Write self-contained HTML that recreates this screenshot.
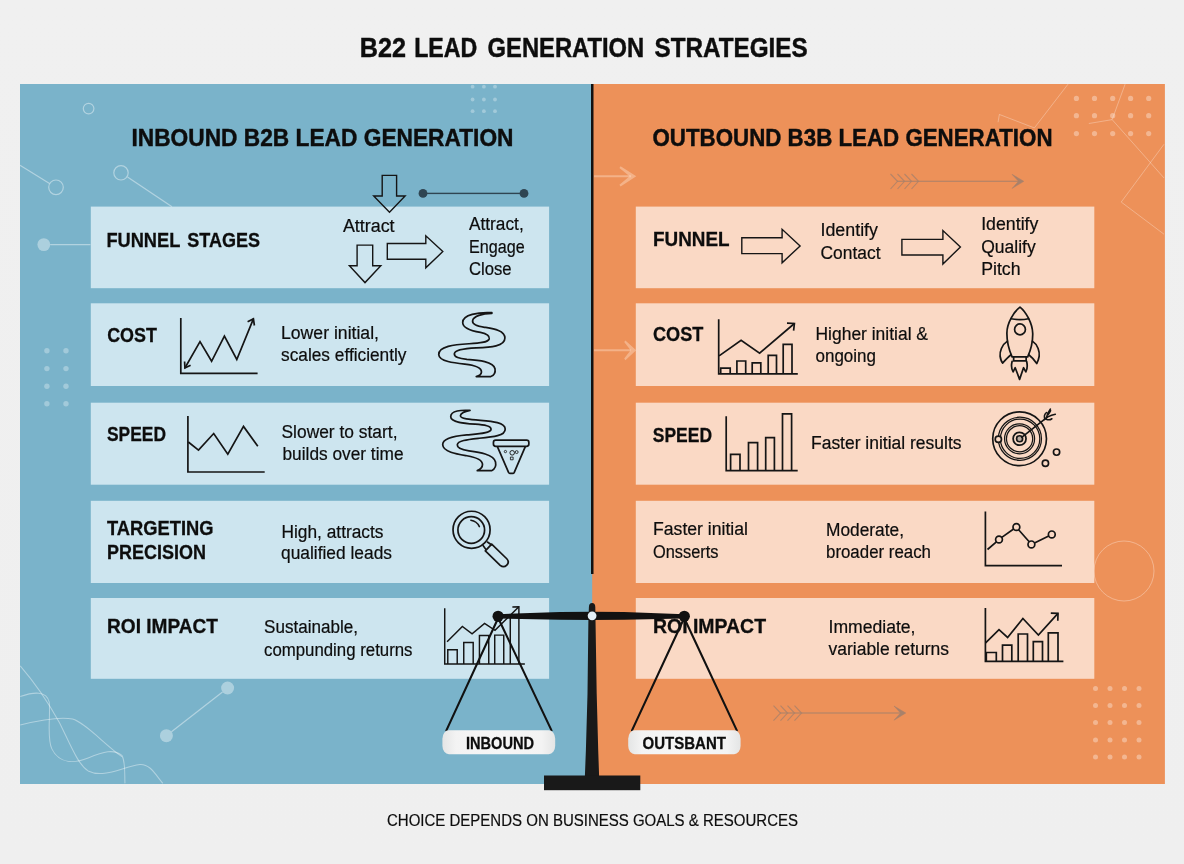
<!DOCTYPE html>
<html lang="en">
<head>
<meta charset="utf-8">
<title>B22 Lead Generation Strategies</title>
<style>
html,body{margin:0;padding:0;background:#f0f0f0;}
body{width:1184px;height:864px;overflow:hidden;font-family:"Liberation Sans",sans-serif;}
svg{display:block;will-change:transform;}
text{font-family:"Liberation Sans",sans-serif;fill:#0d0d0d;stroke:#0d0d0d;stroke-width:0.2;}
.b{font-weight:bold;stroke-width:0.3;}
.h{stroke-width:0.45;}
.ic{fill:none;stroke:#151515;stroke-width:1.7;stroke-linejoin:miter;stroke-linecap:butt;}
</style>
</head>
<body>
<svg width="1184" height="864" viewBox="0 0 1184 864">
<defs>
<linearGradient id="bgg" x1="0" y1="0" x2="0" y2="1"><stop offset="0" stop-color="#f0f0f0"/><stop offset="1" stop-color="#efefef"/></linearGradient>
</defs>
<rect x="0" y="0" width="1184" height="864" fill="url(#bgg)"/>
<!-- panels -->
<rect id="pblue" x="20" y="84" width="574" height="700" fill="#7ab3ca"/>
<rect id="porange" x="592.2" y="84" width="572.7" height="700" fill="#ed9159"/>

<!-- DECOR-BLUE -->
<g id="decblue" fill="none" stroke="#ffffff" stroke-opacity="0.42" stroke-width="1.2">
<circle cx="88.6" cy="108.6" r="5.3"/>
<circle cx="56" cy="187.3" r="7.3"/>
<path d="M20,165.2 L49.5,183.5"/>
<circle cx="121" cy="172.8" r="7.2"/>
<path d="M127.5,177 L172,206.7"/>
<path d="M50.2,244.6 H90.5"/>
<path d="M171.5,731.7 L222.5,692"/>
<g transform="translate(0,640) scale(0.25926)" stroke-width="4" stroke-opacity="0.4">
<path d="M78,100 C130,160 180,230 230,320 C270,400 300,480 340,505 C400,535 470,490 540,480 C580,478 600,520 628,553"/>
<path d="M78,218 C130,200 180,195 190,240 C195,300 180,380 200,420 C230,480 290,475 340,455 C400,430 440,420 470,445 C485,470 480,520 482,553"/>
<path d="M78,328 C150,310 230,295 280,305 C330,320 400,400 470,450"/>
</g>
</g>
<g id="decblue2" fill="#ffffff" fill-opacity="0.38">
<circle cx="43.8" cy="244.6" r="6.4"/>
<circle cx="227.6" cy="688" r="6.5"/>
<circle cx="166.4" cy="735.7" r="6.5"/>
<g fill-opacity="0.3">
<circle cx="46.9" cy="350.7" r="2.7"/><circle cx="66" cy="350.7" r="2.7"/>
<circle cx="46.9" cy="368.6" r="2.7"/><circle cx="66" cy="368.6" r="2.7"/>
<circle cx="46.9" cy="386.2" r="2.7"/><circle cx="66" cy="386.2" r="2.7"/>
<circle cx="46.9" cy="403.8" r="2.7"/><circle cx="66" cy="403.8" r="2.7"/>
<circle cx="472.6" cy="86.7" r="1.9"/><circle cx="483.9" cy="86.7" r="1.9"/><circle cx="495" cy="86.7" r="1.9"/>
<circle cx="472.6" cy="99.5" r="1.9"/><circle cx="483.9" cy="99.5" r="1.9"/><circle cx="495" cy="99.5" r="1.9"/>
<circle cx="472.6" cy="111.2" r="1.9"/><circle cx="483.9" cy="111.2" r="1.9"/><circle cx="495" cy="111.2" r="1.9"/>
</g>
</g>
<!-- DECOR-ORANGE -->
<g id="decor" fill="#ffffff" fill-opacity="0.34">
<circle cx="1076.4" cy="98.4" r="2.6"/>
<circle cx="1094.5" cy="98.4" r="2.6"/>
<circle cx="1112.7" cy="98.4" r="2.6"/>
<circle cx="1130.6" cy="98.4" r="2.6"/>
<circle cx="1148.7" cy="98.4" r="2.6"/>
<circle cx="1076.4" cy="115.7" r="2.6"/>
<circle cx="1094.5" cy="115.7" r="2.6"/>
<circle cx="1112.7" cy="115.7" r="2.6"/>
<circle cx="1130.6" cy="115.7" r="2.6"/>
<circle cx="1148.7" cy="115.7" r="2.6"/>
<circle cx="1076.4" cy="133.6" r="2.6"/>
<circle cx="1094.5" cy="133.6" r="2.6"/>
<circle cx="1112.7" cy="133.6" r="2.6"/>
<circle cx="1130.6" cy="133.6" r="2.6"/>
<circle cx="1148.7" cy="133.6" r="2.6"/>
<circle cx="1095.5" cy="688.5" r="2.5"/>
<circle cx="1110" cy="688.5" r="2.5"/>
<circle cx="1124.5" cy="688.5" r="2.5"/>
<circle cx="1139" cy="688.5" r="2.5"/>
<circle cx="1095.5" cy="705.5" r="2.5"/>
<circle cx="1110" cy="705.5" r="2.5"/>
<circle cx="1124.5" cy="705.5" r="2.5"/>
<circle cx="1139" cy="705.5" r="2.5"/>
<circle cx="1095.5" cy="722.5" r="2.5"/>
<circle cx="1110" cy="722.5" r="2.5"/>
<circle cx="1124.5" cy="722.5" r="2.5"/>
<circle cx="1139" cy="722.5" r="2.5"/>
<circle cx="1095.5" cy="740" r="2.5"/>
<circle cx="1110" cy="740" r="2.5"/>
<circle cx="1124.5" cy="740" r="2.5"/>
<circle cx="1139" cy="740" r="2.5"/>
<circle cx="1095.5" cy="757" r="2.5"/>
<circle cx="1110" cy="757" r="2.5"/>
<circle cx="1124.5" cy="757" r="2.5"/>
<circle cx="1139" cy="757" r="2.5"/>
</g>
<g fill="none" stroke="#ffffff" stroke-opacity="0.3" stroke-width="1">
<circle cx="1124" cy="571" r="30" stroke-opacity="0.32"/>
<g transform="translate(884,60) scale(0.25926)" stroke-width="3.8">
<path d="M710,93 L580,262 L445,210 L440,240"/>
<path d="M930,93 L880,230 L1080,455 M880,230 L790,245"/>
<path d="M1080,325 L915,548 L1080,672"/>
</g>
</g>
<g fill="#ffe3d0" fill-opacity="0.4" stroke="none">
<path d="M594,175.2 H631 V177.2 H594 Z"/>
<path d="M636.3,176.2 L620.6,166.2 L619.4,167.9 L629.6,176.2 L619.4,184.7 L620.6,186.4 Z"/>
<path d="M594,349.2 H631 V351.2 H594 Z"/>
<path d="M636.2,350.2 L625.4,340.4 L624.2,342 L630.6,350.2 L624.2,358.6 L625.4,360.2 Z"/>
</g>
<g fill="none" stroke="#a8816a" stroke-width="1.1">
<path d="M897,181.3 H1020"/><path d="M1023.8,181.3 L1012,174.3 L1018.5,181.3 L1012,188.5 Z" fill="#a8816a" stroke-width="0.5"/>
<path d="M890.5,174 L897.5,181.3 L890.5,189 M897.5,174 L904.5,181.3 L897.5,189 M904.5,174 L911.5,181.3 L904.5,189 M911.5,174 L918.5,181.3 L911.5,189" stroke-opacity="0.8"/>
<path d="M780,713 H902"/><path d="M905.8,713 L894,706 L900.5,713 L894,720.2 Z" fill="#a8816a" stroke-width="0.5"/>
<path d="M773.5,705.7 L780.5,713 L773.5,720.7 M780.5,705.7 L787.5,713 L780.5,720.7 M787.5,705.7 L794.5,713 L787.5,720.7 M794.5,705.7 L801.5,713 L794.5,720.7" stroke-opacity="0.8"/>
</g>

<!-- rows left -->
<g fill="#cde5ef">
<rect x="90.8" y="206.6" width="458.3" height="81.6"/>
<rect x="90.8" y="303.3" width="458.3" height="82.7"/>
<rect x="90.8" y="402.7" width="458.3" height="82"/>
<rect x="90.8" y="500.8" width="458.3" height="82.2"/>
<rect x="90.8" y="598" width="458.3" height="80.8"/>
</g>
<!-- rows right -->
<g fill="#fad9c5">
<rect x="635.8" y="206.6" width="458.5" height="81.6"/>
<rect x="635.8" y="303.3" width="458.5" height="82.7"/>
<rect x="635.8" y="402.7" width="458.5" height="82"/>
<rect x="635.8" y="500.8" width="458.5" height="82.2"/>
<rect x="635.8" y="598" width="458.5" height="80.8"/>
</g>

<!-- divider -->
<rect x="591" y="84" width="2.5" height="490" fill="#111"/>

<!-- TITLES -->
<text class="b h" y="57.4" font-size="27"><tspan x="359.8" textLength="46.2" lengthAdjust="spacingAndGlyphs">B22</tspan> <tspan x="414.2" textLength="63.2" lengthAdjust="spacingAndGlyphs">LEAD</tspan> <tspan x="487.6" textLength="156.6" lengthAdjust="spacingAndGlyphs">GENERATION</tspan> <tspan x="654.6" textLength="153" lengthAdjust="spacingAndGlyphs">STRATEGIES</tspan></text>
<text class="b h" x="131.5" y="146.1" font-size="24.3" textLength="382" lengthAdjust="spacingAndGlyphs">INBOUND B2B LEAD GENERATION</text>
<text class="b h" x="652.5" y="146.1" font-size="24.3" textLength="400" lengthAdjust="spacingAndGlyphs">OUTBOUND B3B LEAD GENERATION</text>
<text x="387" y="826.2" font-size="17.1" textLength="411" lengthAdjust="spacingAndGlyphs">CHOICE DEPENDS ON BUSINESS GOALS &amp; RESOURCES</text>

<!-- LEFT TEXT -->
<g id="ltext">
<text class="b" y="246.7" font-size="21"><tspan x="106.4" textLength="73.6" lengthAdjust="spacingAndGlyphs">FUNNEL</tspan> <tspan x="187.2" textLength="72.8" lengthAdjust="spacingAndGlyphs">STAGES</tspan></text>
<text class="b" x="107.2" y="342.4" font-size="20.9" textLength="49.7" lengthAdjust="spacingAndGlyphs">COST</text>
<text class="b" x="107" y="441" font-size="20.9" textLength="59" lengthAdjust="spacingAndGlyphs">SPEED</text>
<text class="b" x="107" y="535.25" font-size="20.9" textLength="106.5" lengthAdjust="spacingAndGlyphs">TARGETING</text>
<text class="b" x="107" y="559.15" font-size="20.9" textLength="99" lengthAdjust="spacingAndGlyphs">PRECISION</text>
<text class="b" x="107" y="633.1" font-size="20.9" textLength="111" lengthAdjust="spacingAndGlyphs">ROI IMPACT</text>
<text x="342.9" y="231.6" font-size="17.6" textLength="51.7" lengthAdjust="spacingAndGlyphs">Attract</text>
<text x="469" y="230.3" font-size="17.6" textLength="54.7" lengthAdjust="spacingAndGlyphs">Attract,</text>
<text x="469" y="252.6" font-size="17.6" textLength="55.7" lengthAdjust="spacingAndGlyphs">Engage</text>
<text x="469" y="274.5" font-size="17.6" textLength="42.6" lengthAdjust="spacingAndGlyphs">Close</text>
<text x="281" y="339" font-size="17.6" textLength="98" lengthAdjust="spacingAndGlyphs">Lower initial,</text>
<text x="281" y="361.1" font-size="17.6" textLength="125.5" lengthAdjust="spacingAndGlyphs">scales efficiently</text>
<text x="281.5" y="437.6" font-size="17.6" textLength="116" lengthAdjust="spacingAndGlyphs">Slower to start,</text>
<text x="282.5" y="460.0" font-size="17.6" textLength="121" lengthAdjust="spacingAndGlyphs">builds over time</text>
<text x="281.5" y="537.8" font-size="17.6" textLength="102" lengthAdjust="spacingAndGlyphs">High, attracts</text>
<text x="281" y="559.1" font-size="17.6" textLength="111" lengthAdjust="spacingAndGlyphs">qualified leads</text>
<text x="264" y="633.1" font-size="17.6" textLength="94" lengthAdjust="spacingAndGlyphs">Sustainable,</text>
<text x="264" y="655.7" font-size="17.6" textLength="148.5" lengthAdjust="spacingAndGlyphs">compunding returns</text>
</g>
<!-- RIGHT TEXT -->
<g id="rtext">
<text class="b" x="653.0" y="246" font-size="20.9" textLength="76.5" lengthAdjust="spacingAndGlyphs">FUNNEL</text>
<text class="b" x="653.0" y="341.0" font-size="20.9" textLength="50.3" lengthAdjust="spacingAndGlyphs">COST</text>
<text class="b" x="652.8" y="442.0" font-size="20.9" textLength="59.2" lengthAdjust="spacingAndGlyphs">SPEED</text>
<text x="653" y="534.6" font-size="17.6" textLength="95" lengthAdjust="spacingAndGlyphs">Faster initial</text>
<text x="653" y="557.6" font-size="17.6" textLength="65.5" lengthAdjust="spacingAndGlyphs">Onsserts</text>
<text class="b" x="653" y="632.8" font-size="20.9" textLength="113" lengthAdjust="spacingAndGlyphs">ROI IMPACT</text>
<text x="820.5" y="236.4" font-size="17.6" textLength="57.5" lengthAdjust="spacingAndGlyphs">Identify</text>
<text x="820.5" y="258.6" font-size="17.6" textLength="60" lengthAdjust="spacingAndGlyphs">Contact</text>
<text x="981.2" y="230.1" font-size="17.6" textLength="57.2" lengthAdjust="spacingAndGlyphs">Identify</text>
<text x="981.2" y="253" font-size="17.6" textLength="54.5" lengthAdjust="spacingAndGlyphs">Qualify</text>
<text x="981.2" y="275" font-size="17.6" textLength="39.4" lengthAdjust="spacingAndGlyphs">Pitch</text>
<text x="815.5" y="340" font-size="17.6" textLength="112.5" lengthAdjust="spacingAndGlyphs">Higher initial &amp;</text>
<text x="815.5" y="361.8" font-size="17.6" textLength="60.5" lengthAdjust="spacingAndGlyphs">ongoing</text>
<text x="811.0" y="448.7" font-size="17.6" textLength="150.5" lengthAdjust="spacingAndGlyphs">Faster initial results</text>
<text x="826" y="536.4" font-size="17.6" textLength="78" lengthAdjust="spacingAndGlyphs">Moderate,</text>
<text x="826" y="558.4" font-size="17.6" textLength="105" lengthAdjust="spacingAndGlyphs">broader reach</text>
<text x="828.5" y="632.6" font-size="17.6" textLength="87" lengthAdjust="spacingAndGlyphs">Immediate,</text>
<text x="828.5" y="654.6" font-size="17.6" textLength="120.5" lengthAdjust="spacingAndGlyphs">variable returns</text>
</g>
<!-- ICONS -->
<g id="icons" class="ic">
<!-- left funnel arrows -->
<path stroke-width="1.4" d="M382.2,175.4 H396.6 V196 H405.1 L389.5,212.3 L373.7,196 H382.2 Z"/>
<path stroke-width="1.4" d="M357.1,245.1 H372.7 V265.8 H380.8 L365,282.6 L349.4,265.8 H357.1 Z"/>
<path stroke-width="1.4" d="M387.3,243.5 H425.8 V235.8 L442.8,251.6 L425.8,267.8 V259.3 H387.3 Z"/>
<!-- line with dots -->
<g stroke="none" fill="#2f4552"><circle cx="423" cy="193.4" r="4.4"/><circle cx="524" cy="193.4" r="4.4"/><rect x="423" y="192.7" width="101" height="1.4"/></g>
<!-- left cost chart -->
<path d="M180.8,317.9 V373.4 H257.6"/>
<path d="M184.9,368 L200,341.6 L211.6,361.3 L224.4,336.2 L236.8,359.5 L253.4,318.9"/>
<path d="M184.6,361.5 L184.9,368 L190.6,365.2 M247.6,321.8 L253.4,318.9 L254.4,325.5"/>
<!-- left speed chart -->
<path d="M187.9,415.9 V472 H264.7"/>
<path d="M188.3,442 L198.5,450.1 L213.7,433.5 L227.8,454.2 L243.5,426.4 L257.8,446.3"/>
<!-- right funnel arrows -->
<path stroke-width="1.4" d="M741.8,237.8 H782.1 V229.3 L800.1,245.9 L782.1,262.8 V253.6 H741.8 Z"/>
<path stroke-width="1.4" d="M901.9,239.4 H942.9 V230.6 L960.4,247 L942.9,264 V255 H901.9 Z"/>
<!-- right cost chart -->
<path d="M718.7,319.3 V373.9 H797.8"/>
<path d="M720.7,373.9 V368.1 H730.2 V373.9 M736.9,373.9 V361 H745.7 V373.9 M752.2,373.9 V362.8 H760.8 V373.9 M768.2,373.9 V355.4 H776.5 V373.9 M783.2,373.9 V344.3 H792 V373.9"/>
<path d="M719.1,355.9 L741.1,340.4 L759.6,353.1 L794.4,323.5"/>
<path d="M787,323.2 L794.4,323.5 L793.6,330.6"/>
<!-- right speed chart -->
<path d="M726.2,416.3 V470.6 H797.7"/>
<path d="M730.6,470.6 V454.4 H740 V470.6 M748.5,470.6 V442.6 H757.6 V470.6 M765.7,470.6 V437.6 H774.4 V470.6 M782.5,470.6 V413.9 H791.6 V470.6"/>
<!-- right targeting line chart -->
<path d="M985.4,511.5 V565.7 H1062"/>
<path d="M987.5,549.5 L996.4,541.8 M1001.8,537.4 L1013.6,529 M1018.6,529.7 L1029.2,541.8 M1034.5,542.9 L1048.7,535.9"/>
<circle cx="999" cy="539.5" r="3.4"/><circle cx="1016.4" cy="527" r="3.4"/><circle cx="1031.4" cy="544.4" r="3.4"/><circle cx="1051.8" cy="534.4" r="3.4"/>
<!-- right roi chart -->
<path d="M985.4,608 V661.3 H1063.4"/>
<path d="M986.3,661.3 V652.5 H996.3 V661.3 M1002.5,661.3 V645.1 H1011.8 V661.3 M1018.2,661.3 V634 H1027.5 V661.3 M1033.3,661.3 V641.6 H1042.5 V661.3 M1048.3,661.3 V632.8 H1058 V661.3"/>
<path d="M985.6,642.8 L999,629.6 L1007.6,637.5 L1022.9,618.5 L1038.4,635.1 L1058,613.4"/>
<path d="M1050.8,613.2 L1058,613.4 L1057.8,620.8"/>
<!-- left roi chart -->
<g transform="translate(420,590) scale(0.138889)" stroke-width="10.5">
<path d="M178,132 V533 H755"/>
<path d="M200,533 V430 H268 V533 M315,533 V378 H383 V533 M428,533 V328 H495 V533 M538,533 V325 H603 V533 M650,533 V200 M712,533 V165"/>
<path d="M195,372 L305,262 L375,315 L465,240 L540,290 L710,122"/>
<path d="M665,122 L712,120 L712,168"/>
</g>
<g transform="translate(420,300) scale(0.1041667)" stroke-width="16.5" stroke-linejoin="round">
<path d="M690,122 C560,115 410,140 410,215 C410,280 520,300 580,310 C640,322 670,340 665,372 C655,410 560,415 470,420 C330,428 175,445 180,525 C185,590 330,605 430,615 C520,625 590,650 590,690 C590,715 570,725 540,735 L680,735 C720,720 725,690 720,660 C705,590 560,578 450,570 C380,562 325,550 330,515 C335,475 430,465 540,460 C680,455 815,445 815,365 C815,290 700,275 620,262 C540,250 500,235 505,200 C510,155 600,130 690,128 Z"/>
</g>
<g transform="translate(420,400) scale(0.1041667)" stroke-width="16.5" stroke-linejoin="round">
<path d="M480,100 C400,95 295,100 295,160 C295,215 430,225 530,232 C620,238 685,250 682,282 C678,320 560,325 450,335 C330,345 215,365 218,430 C222,500 360,520 450,535 C540,550 600,580 600,620 C600,650 580,665 550,678 L690,678 C730,655 730,620 725,595 C710,520 560,500 470,488 C400,478 355,465 358,430 C362,390 450,380 560,368 C700,355 820,345 818,278 C815,215 700,205 580,195 C480,188 385,180 388,150 C392,125 430,110 480,100 Z"/>
<rect x="705" y="385" width="340" height="60" rx="22" ry="22"/>
<path d="M742,445 L850,695 Q855,705 866,705 L890,705 Q900,705 905,695 L1012,445"/>
<circle cx="820" cy="495" r="11" stroke-width="8"/>
<circle cx="885" cy="507" r="22" stroke-width="9"/>
<circle cx="928" cy="500" r="14" stroke-width="8"/>
<rect x="868" y="548" width="26" height="26" stroke-width="8"/>
</g>
<g transform="translate(420,495) scale(0.1041667)" stroke-width="16.5" stroke-linejoin="round" stroke-linecap="round">
<circle cx="495" cy="334" r="178"/>
<circle cx="492" cy="336" r="128"/>
<path d="M488,242 Q545,250 570,303" stroke-width="15"/>
<path d="M607,487 L632,522 M647,452 L685,478"/>
<path d="M688,472 L833,612 Q862,643 833,673 Q803,703 770,675 L627,537 Z"/>
</g>
<g transform="translate(960,300) scale(0.1041667)" stroke-width="16.5" stroke-linejoin="round" stroke-linecap="round">
<path d="M576,68 C520,110 450,220 450,320 C450,400 470,480 500,545 L650,545 C680,480 700,400 698,320 C695,220 630,110 576,68 Z"/>
<path d="M490,180 Q575,197 658,180"/>
<circle cx="576" cy="282" r="52"/>
<path d="M455,395 C400,430 380,500 385,540 C390,570 400,595 410,605 C440,570 470,540 490,525"/>
<path d="M695,395 C750,430 765,500 760,540 C755,570 745,595 737,610 C710,570 680,540 660,525"/>
<path d="M515,545 V585 H635 V545"/>
<path d="M500,590 C490,630 495,665 510,690 L530,650 L572,762 L610,650 L632,690 C648,660 648,625 640,590"/>
</g>
<g transform="translate(960,395) scale(0.1041667)" stroke-width="15" stroke-linecap="round">
<circle cx="572" cy="420" r="258" stroke-width="16"/>
<circle cx="575" cy="420" r="207" stroke-width="12"/>
<circle cx="577" cy="420" r="189" stroke-width="12"/>
<circle cx="572" cy="420" r="144" stroke-width="12"/>
<circle cx="572" cy="420" r="126" stroke-width="12"/>
<circle cx="572" cy="420" r="62" stroke-width="17"/>
<circle cx="572" cy="420" r="29" stroke-width="16" fill="#b9aaa0"/>
<circle cx="368" cy="424" r="30" fill="#fad9c5" stroke-width="16"/>
<circle cx="927" cy="548" r="30" stroke-width="16"/>
<circle cx="820" cy="655" r="30" stroke-width="16"/>
<path d="M592,406 L838,212" stroke-width="16"/>
<path d="M814,236 C805,205 812,182 830,168 M828,224 C835,185 850,158 868,135 M838,212 C870,196 895,188 915,185 M828,232 C850,242 865,240 882,228 M845,190 C860,170 865,160 870,150" stroke-width="15"/>
</g>
</g>
<!-- SCALE -->
<g id="scale">
<!-- strings -->
<g stroke="#111" stroke-width="2.1" fill="none" stroke-linecap="round">
<path d="M498.2,618 L446.4,730.4 M498.2,618 L551.5,730.4"/>
<path d="M684.2,618 L632,730.4 M684.2,618 L736.8,730.4"/>
</g>
<!-- beam -->
<path d="M498,614.2 L560,612.1 L592,611.8 L624,612.1 L684.4,614.2 L684.4,618.4 L624,619.8 L592,620 L560,619.8 L498,618.4 Z" fill="#111"/>
<circle cx="498.1" cy="616.3" r="5.6" fill="#111"/>
<circle cx="684.3" cy="616.3" r="5.6" fill="#111"/>
<!-- pole -->
<path d="M584.9,776 L585.9,750 L587.5,694 L588.4,620 L588.9,607 Q589,603 592.1,603 Q595.2,603 595.3,607 L595.5,620 L596.7,694 L598.2,750 L599.1,776 Z" fill="#191919"/>
<rect x="544" y="775.5" width="96.3" height="14.7" fill="#191919"/>
<circle cx="592.1" cy="615.8" r="4.4" fill="#e2eff7"/>
<!-- pans -->
<defs>
<linearGradient id="pang" x1="0" y1="0" x2="1" y2="0"><stop offset="0" stop-color="#e4e5e5"/><stop offset="0.12" stop-color="#f3f3f3"/><stop offset="0.5" stop-color="#f6f6f6"/><stop offset="0.88" stop-color="#f3f3f3"/><stop offset="1" stop-color="#e4e5e5"/></linearGradient>
</defs>
<rect x="442.4" y="730.2" width="112.8" height="24" rx="6.5" ry="8.5" fill="url(#pang)"/>
<rect x="628.2" y="730.2" width="112.4" height="24" rx="6.5" ry="8.5" fill="url(#pang)"/>
<text class="b" x="466" y="748.5" font-size="16" textLength="68" lengthAdjust="spacingAndGlyphs">INBOUND</text>
<text class="b" x="642.6" y="748.5" font-size="16" textLength="83.3" lengthAdjust="spacingAndGlyphs">OUTSBANT</text>
</g>
</svg>
</body>
</html>
